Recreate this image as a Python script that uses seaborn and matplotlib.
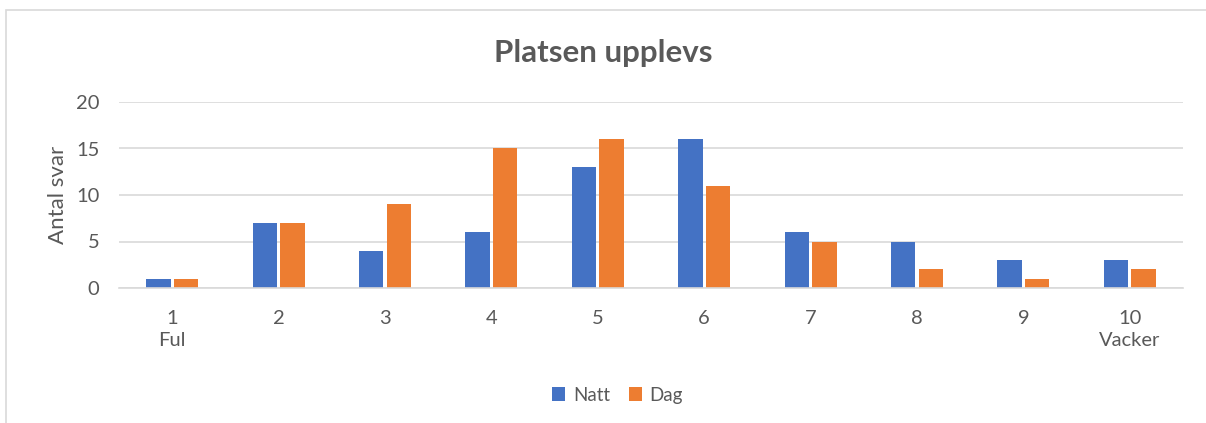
import matplotlib
matplotlib.use("Agg")
import matplotlib.pyplot as plt
from matplotlib.patches import Rectangle
import pandas as pd
import seaborn as sns

# Survey answers: how the place is experienced, scale 1 (Ful) to 10 (Vacker)
categories = ["1", "2", "3", "4", "5", "6", "7", "8", "9", "10"]
tick_labels = ["1\nFul", "2", "3", "4", "5", "6", "7", "8", "9", "10\nVacker"]
natt = [1, 7, 4, 6, 13, 16, 6, 5, 3, 3]
dag = [1, 7, 9, 15, 16, 11, 5, 2, 1, 2]
series_names = ["Natt", "Dag"]
colors = ["#4472C4", "#ED7D31"]

df = pd.DataFrame({
    "Betyg": categories * 2,
    "Antal": natt + dag,
    "Tid": [series_names[0]] * len(natt) + [series_names[1]] * len(dag),
})

sns.set_style("white")
plt.rcParams["font.family"] = ["Lato", "DejaVu Sans"]
text_color = "#595959"
grid_color = "#D9D9D9"

W, H = 1206, 423
fig = plt.figure(figsize=(W / 100, H / 100), dpi=100)
fig.patch.set_facecolor("white")

# outer chart frame
fig.patches.append(Rectangle((6 / W, 1 - 500 / H), 1300 / W, 490 / H,
                             transform=fig.transFigure, fill=False,
                             edgecolor=grid_color, linewidth=1.2))

left, right, top, bottom = 119, 1183, 102, 288
ax = fig.add_axes([left / W, 1 - bottom / H, (right - left) / W, (bottom - top) / H])

sns.barplot(data=df, x="Betyg", y="Antal", hue="Tid", order=categories,
            hue_order=series_names, palette=colors, width=0.52, gap=0.12,
            saturation=1, ax=ax, legend=True, edgecolor="none")

ax.set_ylim(0, 20)
ax.set_yticks([0, 5, 10, 15, 20])
ax.set_xlim(-0.5, len(categories) - 0.5)
ax.yaxis.grid(True, color=grid_color, linewidth=1.2)
ax.set_axisbelow(True)
for s in ["top", "right", "left"]:
    ax.spines[s].set_visible(False)
ax.spines["bottom"].set_color(grid_color)
ax.spines["bottom"].set_linewidth(1.2)

ax.set_xticks(range(len(categories)))
ax.set_xticklabels(tick_labels, fontsize=14.5, color=text_color, linespacing=1.35)
ax.tick_params(axis="x", length=0, pad=16)
ax.tick_params(axis="y", length=0, pad=14, labelsize=14.5, labelcolor=text_color)
for t in ax.get_xticklabels():
    t.set_verticalalignment("top")

ax.set_xlabel("")
ax.set_ylabel("Antal svar", fontsize=16, color=text_color, labelpad=6)

fig.text(0.5, 1 - 53 / H, "Platsen upplevs", ha="center", va="center",
         fontsize=22.5, fontweight="bold", color=text_color)

handles, labels = ax.get_legend_handles_labels()
ax.get_legend().remove()
fig.legend(handles, labels, loc="center", bbox_to_anchor=(0.512, 1 - 395 / H),
           ncol=2, frameon=False, fontsize=13.5, labelcolor=text_color,
           handlelength=0.7, handleheight=0.7, handletextpad=0.4,
           columnspacing=1.0)

fig.savefig("out.png", dpi=100, facecolor="white")
